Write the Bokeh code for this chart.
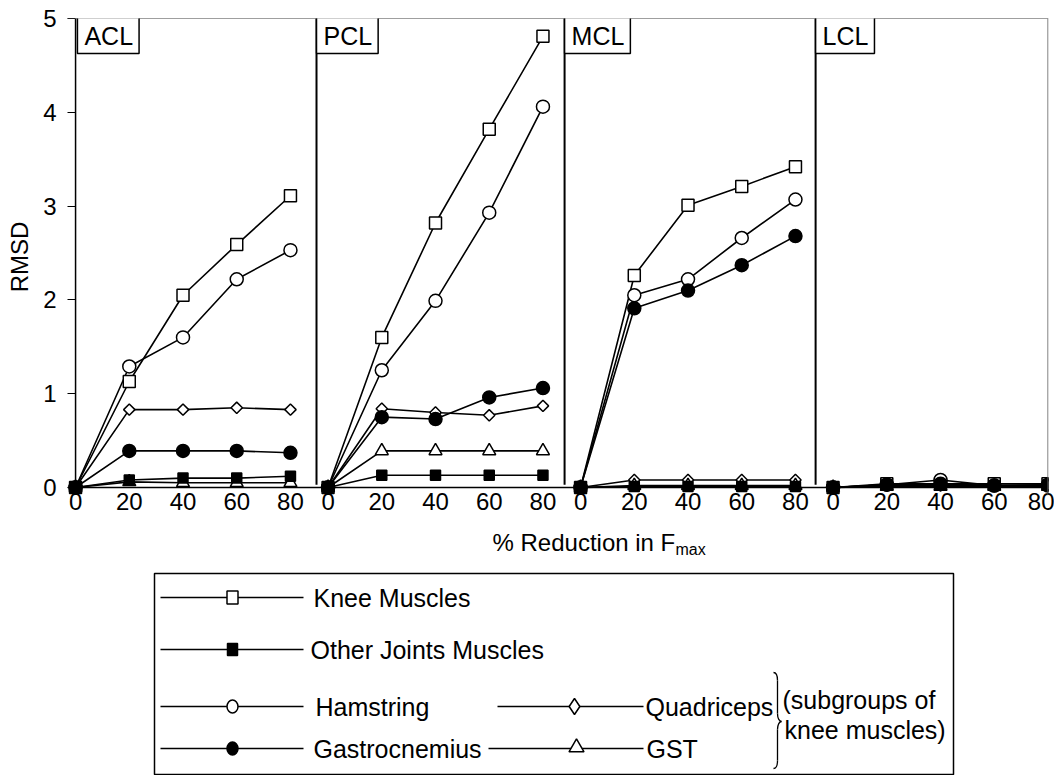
from bokeh.plotting import figure
from bokeh.models import Range1d, FixedTicker, Span, Label
from bokeh.layouts import column
from bokeh.embed import file_html
from bokeh.resources import INLINE
from bokeh.core.properties import value
import numpy as np

FONT = "Liberation Sans"

# ---------------- data ----------------
panels = ["ACL", "PCL", "MCL", "LCL"]
reduction = [0, 20, 40, 60, 80]

knee_muscles = {"ACL": [0, 1.13, 2.05, 2.59, 3.11],
                "PCL": [0, 1.60, 2.82, 3.82, 4.81],
                "MCL": [0, 2.26, 3.01, 3.21, 3.42],
                "LCL": [0, 0.04, 0.04, 0.04, 0.04]}
other_joints = {"ACL": [0, 0.08, 0.10, 0.10, 0.12],
                "PCL": [0, 0.13, 0.13, 0.13, 0.13],
                "MCL": [0, 0.01, 0.01, 0.01, 0.01],
                "LCL": [0, 0.03, 0.03, 0.02, 0.03]}
hamstring = {"ACL": [0, 1.29, 1.60, 2.22, 2.53],
             "PCL": [0, 1.25, 1.99, 2.93, 4.06],
             "MCL": [0, 2.05, 2.22, 2.66, 3.07],
             "LCL": [0, 0.03, 0.08, 0.02, 0.02]}
gastrocnemius = {"ACL": [0, 0.39, 0.39, 0.39, 0.37],
                 "PCL": [0, 0.75, 0.73, 0.96, 1.06],
                 "MCL": [0, 1.91, 2.10, 2.37, 2.68],
                 "LCL": [0, 0.03, 0.04, 0.02, 0.03]}
quadriceps = {"ACL": [0, 0.83, 0.83, 0.85, 0.83],
              "PCL": [0, 0.84, 0.80, 0.77, 0.87],
              "MCL": [0, 0.08, 0.08, 0.08, 0.08],
              "LCL": [0, 0.02, 0.02, 0.02, 0.02]}
gst = {"ACL": [0, 0.06, 0.05, 0.05, 0.05],
       "PCL": [0, 0.39, 0.39, 0.39, 0.39],
       "MCL": [0, 0.02, 0.02, 0.02, 0.02],
       "LCL": [0, 0.01, 0.01, 0.01, 0.01]}

y_ticks = [0, 1, 2, 3, 4, 5]

# ---------------- layout / styles ----------------
PANEL_STEP = 94
X_START, X_END = -3, 362.2
Y_START, Y_END = -0.0853, 5
FRAME_L, FRAME_T, FRAME_W, FRAME_H = 67, 18, 981, 477
MAIN_BOTTOM_BORDER = 27
MAIN_H = FRAME_T + FRAME_H + MAIN_BOTTOM_BORDER
divider_gaps = [4.3, 5.95, 6.5]

# (name, data, marker, fill, size, angle)
series = [
    ("Knee Muscles", knee_muscles, "square", "white", 12, 0.0),
    ("Hamstring", hamstring, "circle", "white", 13, 0.0),
    ("Quadriceps", quadriceps, "square", "white", 8, np.pi / 4),
    ("GST", gst, "triangle", "white", 13, 0.0),
    ("Gastrocnemius", gastrocnemius, "circle", "black", 13, 0.0),
    ("Other Joints Muscles", other_joints, "square", "black", 10, 0.0),
]

p = figure(frame_width=FRAME_W, frame_height=FRAME_H,
           x_range=Range1d(X_START, X_END), y_range=Range1d(Y_START, Y_END),
           output_backend="svg", toolbar_location=None,
           min_border_left=FRAME_L, min_border_right=6, min_border_top=FRAME_T,
           min_border_bottom=MAIN_BOTTOM_BORDER)
p.xgrid.visible = False
p.ygrid.visible = False
p.background_fill_color = "white"
p.border_fill_color = "white"
p.outline_line_color = None

xt = [k * PANEL_STEP + r for k in range(len(panels)) for r in reduction]
p.xaxis.ticker = FixedTicker(ticks=xt)
p.xaxis.major_label_overrides = {k * PANEL_STEP + r: str(r)
                                 for k in range(len(panels)) for r in reduction}
p.yaxis.ticker = FixedTicker(ticks=y_ticks)
for ax in (p.xaxis[0], p.yaxis[0]):
    ax.axis_line_color = None
    ax.major_label_text_font = FONT
    ax.major_label_text_font_size = "24px"
    ax.major_label_text_color = "black"
    ax.minor_tick_line_color = None
p.xaxis.major_tick_line_color = None
p.xaxis.major_tick_out = 0
p.xaxis.major_tick_in = 0
p.xaxis.major_label_standoff = -3
p.yaxis.major_tick_line_color = "black"
p.yaxis.major_tick_line_width = 1
p.yaxis.major_tick_out = 0
p.yaxis.major_tick_in = 8
p.yaxis.major_label_standoff = 11
p.yaxis.axis_label = "RMSD"
p.yaxis.axis_label_text_font = FONT
p.yaxis.axis_label_text_font_size = "24px"
p.yaxis.axis_label_text_font_style = "normal"
p.yaxis.axis_label_text_color = "black"
p.yaxis.axis_label_standoff = 7

# axis lines through the origin, frame top and right borders
p.segment(x0=[X_START, 0], y0=[0, 0], x1=[X_END, 0], y1=[0, 5],
          line_color="black", line_width=1.5)
p.add_layout(Span(location=5, dimension="width", line_color="#404040", line_width=1))
p.add_layout(Span(location=X_END - 0.2, dimension="height", line_color="#606060", line_width=1))

div_x = [(k + 1) * PANEL_STEP - g for k, g in enumerate(divider_gaps)]
p.segment(x0=div_x, y0=[0.03] * 3, x1=div_x, y1=[5.0] * 3,
          line_color="black", line_width=2)

for name, data, marker, fill, size, angle in series:
    for k, pn in enumerate(panels):
        xs = [k * PANEL_STEP + r for r in reduction]
        p.line(xs, data[pn], line_color="black", line_width=1.6)
for name, data, marker, fill, size, angle in series:
    for k, pn in enumerate(panels):
        xs = [k * PANEL_STEP + r for r in reduction]
        p.scatter(xs, data[pn], marker=marker, size=size, angle=angle,
                  fill_color=fill, line_color="black", line_width=1.5)

label_x = [0.7] + div_x
for lx, pn in zip(label_x, panels):
    p.add_layout(Label(x=lx, y=5, text=pn, x_offset=0, y_offset=2,
                       text_font=FONT, text_font_size="25px",
                       text_align="left", text_baseline="top", text_color="black",
                       border_line_color="black", border_line_width=1.5,
                       background_fill_color="white",
                       padding=dict(left=7, right=6, top=5, bottom=4)))

# ---------------- x title + legend (pixel-coordinate figure) ----------------
LG_BOTTOM = 775
lg = figure(frame_width=FRAME_W, frame_height=LG_BOTTOM - MAIN_H,
            x_range=Range1d(FRAME_L, FRAME_L + FRAME_W),
            y_range=Range1d(LG_BOTTOM, MAIN_H), output_backend="svg",
            toolbar_location=None, min_border_left=FRAME_L, min_border_right=6,
            min_border_top=0, min_border_bottom=0,
            x_axis_location=None, y_axis_location=None)
lg.xgrid.visible = False
lg.ygrid.visible = False
lg.outline_line_color = None
lg.background_fill_color = "white"
lg.border_fill_color = "white"

lg.text([492], [541.5], text=["% Reduction in F"], text_font=value(FONT),
        text_font_size="24px", text_baseline="alphabetic", text_color="black")
lg.text([675], [549], text=["max"], text_font=value(FONT),
        text_font_size="16px", text_baseline="alphabetic", text_color="black")

lg.quad(left=[154], right=[953], top=[573], bottom=[774], fill_color=None,
        line_color="black", line_width=1.5)

rows_y = [597, 649, 706, 748]
LFS = "25px"
leg_lines = [(160, 303, 0), (160, 303, 1), (160, 303, 2), (160, 303, 3),
             (497, 643, 2), (488, 643, 3)]
for x0, x1, r in leg_lines:
    lg.line([x0, x1], [rows_y[r], rows_y[r]], line_color="black", line_width=1.5)

lg.rect([232], [rows_y[0]], width=11, height=13, fill_color="white",
        line_color="black", line_width=1.5)
lg.rect([232], [rows_y[1]], width=10, height=12, fill_color="black",
        line_color="black", line_width=1.5)
lg.ellipse([232], [rows_y[2]], width=11, height=13, fill_color="white",
           line_color="black", line_width=1.5)
lg.ellipse([232], [rows_y[3]], width=11, height=13, fill_color="black",
           line_color="black", line_width=1.5)
lg.scatter([574], [rows_y[2]], marker="diamond", size=16, fill_color="white",
           line_color="black", line_width=1.5)
lg.scatter([576], [rows_y[3] - 1], marker="triangle", size=15, fill_color="white",
           line_color="black", line_width=1.5)

leg_texts = [(313, 0, "Knee Muscles"), (310, 1, "Other Joints Muscles"),
             (315, 2, "Hamstring"), (313, 3, "Gastrocnemius"),
             (645, 2, "Quadriceps"), (646, 3, "GST")]
for tx, r, txt in leg_texts:
    lg.text([tx], [rows_y[r]], text=[txt], text_font=value(FONT), text_font_size=LFS,
            text_baseline="middle", text_color="black")

# brace
bx = 777
lg.bezier(x0=[bx - 4, bx, bx + 4, bx], y0=[672, 713, 721, 760],
          x1=[bx, bx + 4, bx, bx - 4], y1=[680, 721, 729, 768],
          cx0=[bx - 1, bx, bx + 2, bx], cy0=[672, 718, 721, 765],
          cx1=[bx, bx + 2, bx, bx - 1], cy1=[675, 721, 724, 768],
          line_color="black", line_width=1.3)
lg.segment(x0=[bx, bx], y0=[680, 729], x1=[bx, bx], y1=[713, 760],
           line_color="black", line_width=1.3)
lg.text([782, 784], [699, 729], text=["(subgroups of", "knee muscles)"],
        text_font=value(FONT), text_font_size=LFS, text_baseline="middle",
        text_color="black")

layout = column(p, lg)
open("out.html", "w").write(file_html(layout, INLINE))
